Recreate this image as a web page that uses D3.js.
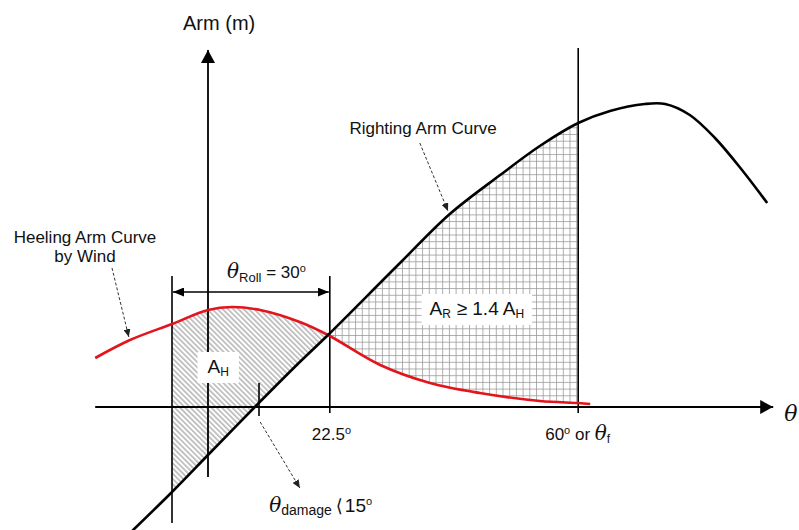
<!DOCTYPE html>
<meta charset="utf-8">
<script src="https://d3js.org/d3.v7.min.js"></script>
<style>
  body { margin: 0; background: #fff; }
  svg text { font-family: "Liberation Sans", Arial, sans-serif; fill: #111; }
  svg .th { font-family: "DejaVu Serif", serif; font-style: italic; }
  svg .br { font-family: "DejaVu Sans", sans-serif; }
</style>
<div id="my_dataviz"></div>
<script>
    // schematic units: x = heel angle (0 at the Arm axis), y = lever arm (0 at the θ axis)
    var rightingArm = [[-13, -12.6], [-6, -8.5], [0, -4.8], [7.8, 0], [15.3, 4.5], [20, 7.2], [32, 14.4],
        [40.3, 19.3], [48.7, 23.2], [55.3, 26.1], [61.7, 28.4], [67, 29.6], [72.8, 30.3], [76.2, 30.3],
        [80.3, 29.2], [84.5, 26.9], [89, 23.7], [93.2, 20.4]];
    var heelingArm = [[-18.8, 4.9], [-13, 6.7], [-6, 8.3], [0, 9.7], [4, 10.0], [8.7, 9.7], [15.3, 8.5],
        [20, 7.2], [28.7, 4.2], [37, 2.4], [45.3, 1.4], [55.3, 0.6], [61.7, 0.4], [63.7, 0.3]];

    var rollStart = -6, damageAngle = 8.5, rollEnd = 20.3, floodAngle = 61.7;

    // vertical guide lines: [angle, from, to]
    var guides = [[rollStart, -11.6, 13.1], [damageAngle, -0.9, 2.4], [rollEnd, -0.6, 13.1], [floodAngle, -0.6, 35.9]];
    var xAxisExtent = [-18.8, 94.2], yAxisExtent = [-7, 35.7];
    var rollArrowLevel = 11.5;

    // dashed pointers: [from, to]
    var heelPointer = [[-16, 13.9], [-13.2, 7.0]];
    var rightPointer = [[35.3, 26.4], [40, 19.6]];
    var damagePointer = [[8.7, -1.5], [15.3, -8.1]];

    var areaHLabel = [1.7, 3.4], areaRLabel = [44.8, 9.2];

    var width = 799, height = 530;

    var x = d3.scaleLinear().domain([-19, 95]).range([94, 778]);
    var y = d3.scaleLinear().domain([-12, 36]).range([527, 47]);

    var svg = d3.select("#my_dataviz")
        .append("svg")
        .attr("width", width)
        .attr("height", height);

    var defs = svg.append("defs");

    defs.append("pattern")
        .attr("id", "hatch")
        .attr("patternUnits", "userSpaceOnUse")
        .attr("width", 3.7).attr("height", 3.7)
        .attr("patternTransform", "rotate(-45)")
        .append("line")
        .attr("x1", 1.8).attr("y1", 0).attr("x2", 1.8).attr("y2", 3.7)
        .attr("stroke", "#8c8c8c").attr("stroke-width", 1);

    defs.append("pattern")
        .attr("id", "grid")
        .attr("patternUnits", "userSpaceOnUse")
        .attr("width", 6.7).attr("height", 6.7)
        .append("path")
        .attr("d", "M0.5,0V6.7M0,0.5H6.7")
        .attr("fill", "none")
        .attr("stroke", "#9a9a9a").attr("stroke-width", 0.8);

    function marker(id, len, half, color) {
        defs.append("marker")
            .attr("id", id)
            .attr("markerUnits", "userSpaceOnUse")
            .attr("viewBox", "0 " + (-half) + " " + len + " " + (2 * half))
            .attr("refX", len).attr("refY", 0)
            .attr("markerWidth", len).attr("markerHeight", 2 * half)
            .attr("orient", "auto-start-reverse")
            .append("path")
            .attr("d", "M0," + (-half) + "L" + len + ",0L0," + half + "Z")
            .attr("fill", color);
    }
    marker("axisHead", 13, 7, "#000");
    marker("rollHead", 11, 4.5, "#000");
    marker("noteHead", 8, 3.5, "#222");

    var line = d3.line()
        .x(function (d) { return x(d[0]); })
        .y(function (d) { return y(d[1]); })
        .curve(d3.curveCatmullRom);

    var rPath = line(rightingArm), hPath = line(heelingArm);
    var hFirst = heelingArm[0][0], hLast = heelingArm[heelingArm.length - 1][0];
    var rFirst = rightingArm[0][0], rLast = rightingArm[rightingArm.length - 1][0];

    function clip(id, d) {
        defs.append("clipPath").attr("id", id).append("path").attr("d", d);
    }
    clip("belowHeel", hPath + "L" + x(hLast) + "," + height + "L" + x(hFirst) + "," + height + "Z");
    clip("aboveHeel", hPath + "L" + x(hLast) + ",0L" + x(hFirst) + ",0Z");
    clip("belowRight", rPath + "L" + x(rLast) + "," + height + "L" + x(rFirst) + "," + height + "Z");
    clip("aboveRight", rPath + "L" + x(rLast) + ",0L" + x(rFirst) + ",0Z");

    // A_H : under the heeling curve, above the righting curve, from the roll-back angle
    svg.append("g").attr("clip-path", "url(#aboveRight)")
        .append("rect")
        .attr("clip-path", "url(#belowHeel)")
        .attr("x", x(rollStart)).attr("y", 0)
        .attr("width", x(rollEnd) - x(rollStart)).attr("height", height)
        .attr("fill", "url(#hatch)");

    // A_R : between the curves up to the flooding angle
    svg.append("g").attr("clip-path", "url(#belowRight)")
        .append("rect")
        .attr("clip-path", "url(#aboveHeel)")
        .attr("x", x(rollStart)).attr("y", 0)
        .attr("width", x(floodAngle) - x(rollStart)).attr("height", height)
        .attr("fill", "url(#grid)");

    // axes
    svg.append("line")
        .attr("x1", x(xAxisExtent[0])).attr("x2", x(xAxisExtent[1]))
        .attr("y1", y(0)).attr("y2", y(0))
        .attr("stroke", "#000").attr("stroke-width", 1.8)
        .attr("marker-end", "url(#axisHead)");
    svg.append("line")
        .attr("x1", x(0)).attr("x2", x(0))
        .attr("y1", y(yAxisExtent[0])).attr("y2", y(yAxisExtent[1]))
        .attr("stroke", "#000").attr("stroke-width", 1.8)
        .attr("marker-end", "url(#axisHead)");

    svg.selectAll(".guide")
        .data(guides)
        .enter()
        .append("line")
        .attr("class", "guide")
        .attr("x1", function (d) { return x(d[0]); })
        .attr("x2", function (d) { return x(d[0]); })
        .attr("y1", function (d) { return y(d[1]); })
        .attr("y2", function (d) { return y(d[2]); })
        .attr("stroke", "#000").attr("stroke-width", 1.6);

    // roll span arrow
    svg.append("line")
        .attr("x1", x(rollStart) + 1).attr("x2", x(rollEnd) - 1)
        .attr("y1", y(rollArrowLevel)).attr("y2", y(rollArrowLevel))
        .attr("stroke", "#000").attr("stroke-width", 1.6)
        .attr("marker-start", "url(#rollHead)")
        .attr("marker-end", "url(#rollHead)");

    // curves
    svg.append("path").attr("d", hPath)
        .attr("fill", "none").attr("stroke", "#e3141b").attr("stroke-width", 2.6);
    svg.append("path").attr("d", rPath)
        .attr("fill", "none").attr("stroke", "#000").attr("stroke-width", 2.6);

    // dashed pointers
    [heelPointer, rightPointer, damagePointer].forEach(function (p) {
        svg.append("line")
            .attr("x1", x(p[0][0])).attr("y1", y(p[0][1]))
            .attr("x2", x(p[1][0])).attr("y2", y(p[1][1]))
            .attr("stroke", "#333").attr("stroke-width", 1)
            .attr("stroke-dasharray", "3,2")
            .attr("marker-end", "url(#noteHead)");
    });

    // text helper: parts = [text, size, dy, class, dx]
    function rich(px, py, anchor, parts, box) {
        var t = svg.append("text")
            .attr("x", px).attr("y", py)
            .attr("text-anchor", anchor);
        parts.forEach(function (p) {
            t.append("tspan")
                .attr("class", p[3] || null)
                .attr("font-size", p[1])
                .attr("dy", p[2] || 0)
                .attr("dx", p[4] || 0)
                .text(p[0]);
        });
        if (box) {
            var b = t.node().getBBox();
            svg.insert("rect", function () { return t.node(); })
                .attr("x", b.x - box[0]).attr("y", b.y - box[1])
                .attr("width", b.width + 2 * box[0]).attr("height", b.height + 2 * box[1])
                .attr("fill", "#fff");
        }
        return t;
    }

    rich(x(0) - 25, 30, "start", [["Arm (m)", 20]]);
    rich(x(xAxisExtent[1]) + 11, y(0) + 14, "start", [["θ", 22, 0, "th"]]);

    rich(x(heelPointer[0][0]) - 27, y(heelPointer[0][1]) - 25, "middle", [["Heeling Arm Curve", 17]]);
    rich(x(heelPointer[0][0]) - 27, y(heelPointer[0][1]) - 6, "middle", [["by Wind", 17]]);
    rich(x(rightPointer[0][0]) + 77, y(rightPointer[0][1]) - 9, "end", [["Righting  Arm Curve", 17]]);

    rich(x(rollStart) + 55, y(rollArrowLevel) - 14, "start",
        [["θ", 20, 0, "th"], ["Roll", 13, 4], [" = 30", 17, -4], ["o", 11, -6]]);

    rich(x(areaHLabel[0]), y(areaHLabel[1]), "middle",
        [["A", 19], ["H", 12, 3]], [10, 4]);
    rich(x(areaRLabel[0]), y(areaRLabel[1]), "middle",
        [["A", 19], ["R", 12, 3], ["≥", 19, -3, null, 6], ["1.4", 19, 0, null, 5], ["A", 19, 0, null, 4], ["H", 12, 3]], [8, 4]);

    rich(x(rollEnd) - 18, y(0) + 33, "start", [["22.5", 17], ["o", 11, -6]]);
    rich(x(floodAngle) - 33, y(0) + 33, "start",
        [["60", 17], ["o", 11, -6], [" or ", 17, 6], ["θ", 20, 0, "th"], ["f", 12, 3]]);

    rich(x(damagePointer[0][0]) + 9, y(0) + 105, "start",
        [["θ", 20, 0, "th"], ["damage", 14, 3], ["⟨", 18, -3, "br", 4], ["15", 19, 0, null, 2], ["o", 11, -7]]);
</script>
